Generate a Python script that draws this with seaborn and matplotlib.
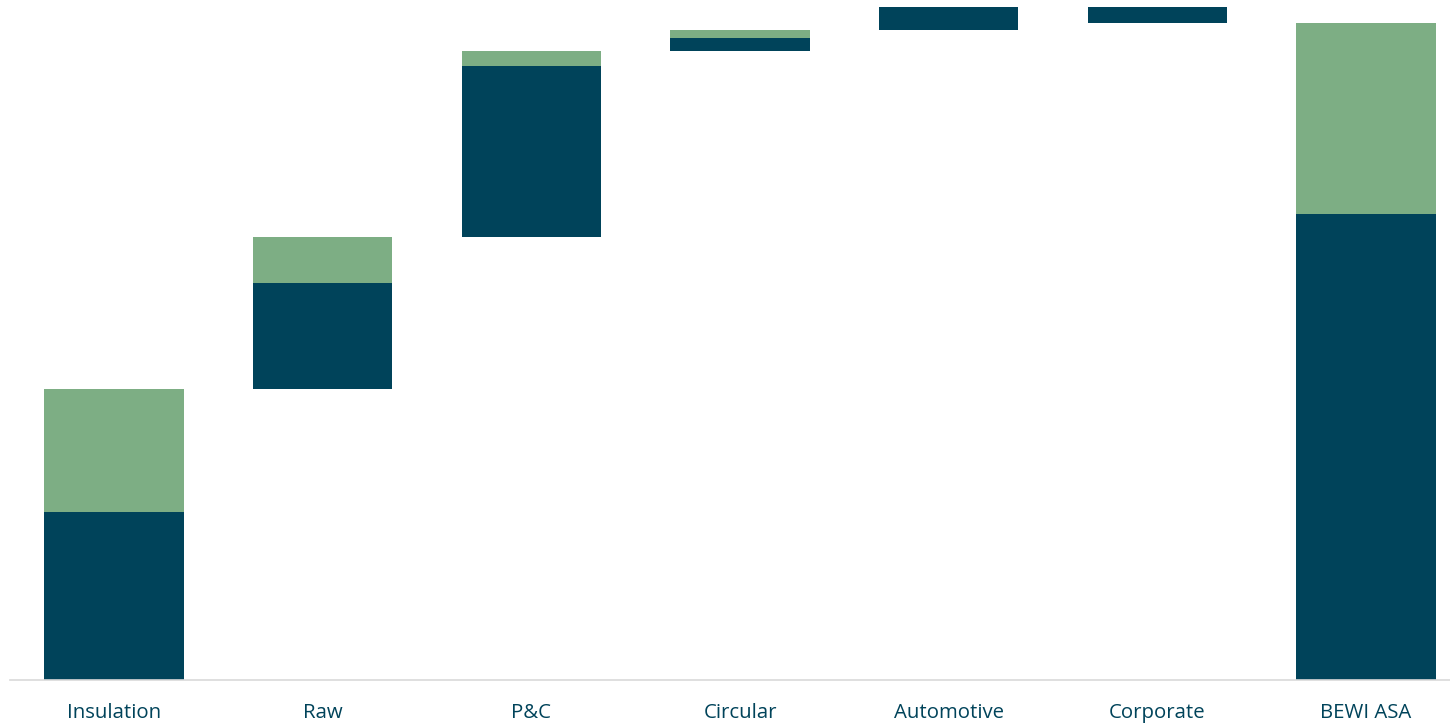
import numpy as np
import pandas as pd
import matplotlib
matplotlib.use("Agg")
import matplotlib.pyplot as plt
import seaborn as sns

# EBITDA bridge by segment (two stacked components per step)
segments = ["Insulation", "Raw", "P&C", "Circular", "Automotive", "Corporate", "BEWI ASA"]
base_part = [16.8, 10.6, 17.1, 1.3, 2.3, -1.6, 46.6]
add_part = [12.3, 4.6, 1.5, 0.8, 0.0, 0.0, 19.1]

DARK = "#00435A"
GREEN = "#7DAE84"
AXIS = "#D9D9D9"

base = np.array(base_part)
add = np.array(add_part)

# Running totals: each step starts where the previous one ended; the last bar is the total
steps = base[:-1] + add[:-1]
starts = np.concatenate([[0.0], np.cumsum(steps)[:-1]])
base_bottom = np.append(starts, 0.0)
add_bottom = base_bottom + base

df = pd.DataFrame({
    "segment": segments,
    "base": base,
    "add": add,
    "base_bottom": base_bottom,
    "add_bottom": add_bottom,
})

sns.set_theme(style="white")
plt.rcParams["font.family"] = ["Open Sans", "DejaVu Sans"]

fig = plt.figure(figsize=(14.5, 7.24), dpi=100)
W, H = 1450, 724
ax = fig.add_axes([9.67 / W, 44 / H, 1460.7 / W, 680 / H])

sns.barplot(data=df, x="segment", y="base", bottom=df["base_bottom"].values,
            color=DARK, saturation=1, width=0.668, linewidth=0, ax=ax)
sns.barplot(data=df, x="segment", y="add", bottom=df["add_bottom"].values,
            color=GREEN, saturation=1, width=0.668, linewidth=0, ax=ax)

ax.set_xlim(-0.5, len(segments) - 0.5)
ax.set_ylim(0, 68.0)
ax.set_xlabel("")
ax.set_ylabel("")
ax.set_yticks([])
ax.tick_params(axis="x", length=0, pad=16.5, labelsize=14.7, labelcolor=DARK)

for side in ["top", "right", "left"]:
    ax.spines[side].set_visible(False)
ax.spines["bottom"].set_color(AXIS)
ax.spines["bottom"].set_linewidth(1.2)
ax.set_facecolor("white")
fig.patch.set_facecolor("white")

fig.savefig("out.png", dpi=100, facecolor="white")
